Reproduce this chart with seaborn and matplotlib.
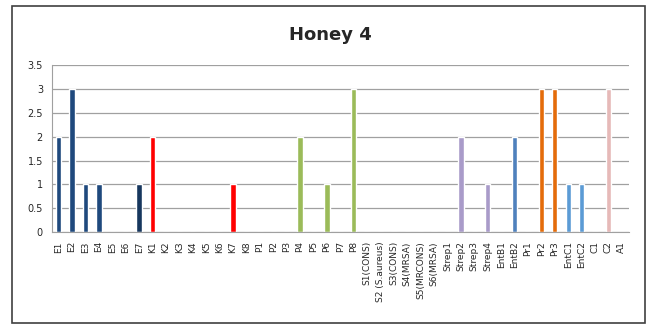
import pandas as pd
import numpy as np
import matplotlib.pyplot as plt
import seaborn as sns
from matplotlib.patches import Rectangle

# data
labels = ["E1", "E2", "E3", "E4", "E5", "E6", "E7",
          "K1", "K2", "K3", "K4", "K5", "K6", "K7", "K8",
          "P1", "P2", "P3", "P4", "P5", "P6", "P7", "P8",
          "S1(CONS)", "S2 (S.aureus)", "S3(CONS)", "S4(MRSA)", "S5(MRCONS)", "S6(MRSA)",
          "Strep1", "Strep2", "Strep3", "Strep4",
          "EntB1", "EntB2", "Pr1", "Pr2", "Pr3", "EntC1", "EntC2",
          "C1", "C2", "A1"]
values = [2, 3, 1, 1, 0, 0, 1,
          2, 0, 0, 0, 0, 0, 1, 0,
          0, 0, 0, 2, 0, 1, 0, 3,
          0, 0, 0, 0, 0, 0,
          0, 2, 0, 1,
          0, 2, 0, 3, 3, 1, 1,
          0, 3, 0]
groups = ["E"] * 6 + ["E7"] + ["K"] * 8 + ["P"] * 8 + ["S"] * 6 + ["Strep"] * 4 + \
         ["EntB"] * 2 + ["Pr"] * 3 + ["EntC"] * 2 + ["C"] * 2 + ["A"]
group_colors = {"E": "#1F497D", "E7": "#17375E", "K": "#FF0000", "P": "#9BBB59",
                "S": "#4F81BD", "Strep": "#A99BC9", "EntB": "#4F81BD", "Pr": "#E46C0A",
                "EntC": "#5B9BD5", "C": "#E6B9B8", "A": "#4F81BD"}

df = pd.DataFrame({"label": labels, "value": values, "group": groups})

sns.set_style("white")
plt.rcParams['font.family'] = ['DejaVu Sans']

fig = plt.figure(figsize=(6.5, 3.34), dpi=100)
ax = fig.add_axes([0.08, 0.305, 0.887, 0.50])

sns.barplot(data=df, x="label", y="value", hue="group", palette=group_colors,
            dodge=False, width=0.4, saturation=1, legend=False, ax=ax)

ax.set_ylim(0, 3.5)
ax.set_yticks(np.arange(0, 3.51, 0.5))
ax.set_yticklabels(["0", "0.5", "1", "1.5", "2", "2.5", "3", "3.5"], fontsize=7)
ax.yaxis.grid(True, color="#A0A0A0", linewidth=0.9)
ax.set_axisbelow(True)
ax.set_xlim(-0.5, len(labels) - 0.5)
ax.tick_params(axis="x", labelrotation=90, labelsize=6.5, length=3, color="#A0A0A0")
ax.tick_params(axis="y", length=3, color="#A0A0A0")
ax.set_xlabel("")
ax.set_ylabel("")
for s in ["top", "right"]:
    ax.spines[s].set_visible(False)
ax.spines["left"].set_color("#A0A0A0")
ax.spines["bottom"].set_color("#A0A0A0")

fig.text(0.508, 0.895, "Honey 4", ha="center", va="center", fontsize=13, fontweight="bold")

# outer chart frame
fig.patches.append(Rectangle((0.018, 0.033), 0.975, 0.95, transform=fig.transFigure,
                             fill=False, edgecolor="#404040", linewidth=1.2))

fig.savefig("out.png", dpi=100)
